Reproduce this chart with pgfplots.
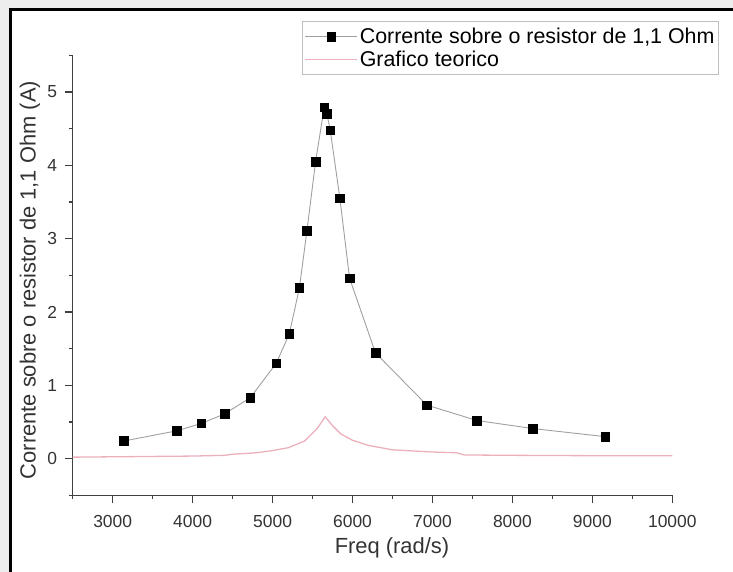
\documentclass[border=0pt]{standalone}
\usepackage{fontspec}
\setmainfont{Liberation Sans}
\usepackage{pgfplots}
\pgfplotsset{compat=1.18}
\definecolor{teorico}{RGB}{236,176,188}
\definecolor{ligacao}{RGB}{160,160,160}

% measured current through the 1.1 Ohm resistor
\pgfplotstableread{
w      I
3138   0.24
3805   0.38
4109   0.48
4400   0.61
4721   0.83
5046   1.30
5209   1.70
5336   2.33
5430   3.11
5538   4.05
5646   4.79
5680   4.70
5721   4.48
5842   3.55
5963   2.46
6288   1.44
6930   0.73
7555   0.52
8255   0.41
9159   0.30
}\medido

% theoretical curve
\pgfplotstableread{
w      I
2500   0.02
3000   0.025
3500   0.03
4000   0.035
4400   0.045
4500   0.06
4800   0.08
5000   0.11
5200   0.15
5400   0.24
5550   0.40
5659   0.57
5750   0.45
5850   0.34
6000   0.25
6200   0.18
6500   0.12
7000   0.09
7300   0.08
7400   0.05
8000   0.045
9000   0.04
10000  0.04
}\teorico

\begin{document}
\begin{tikzpicture}[x=1bp,y=1bp]
\path[use as bounding box] (0,0) rectangle (733,572);
\fill[black!7] (0,0) rectangle (8.5,572);
\fill[black!7] (0,563.5) rectangle (733,572);
\draw[line width=3bp] (10,0) -- (10,562.5) -- (733,562.5);
\begin{axis}[
  at={(72.7bp,76.7bp)}, anchor=south west,
  scale only axis, width=599.6bp, height=440bp,
  xmin=2500, xmax=10000, ymin=-0.5, ymax=5.5,
  axis lines*=left,
  axis line style={black!75, line width=1.4bp},
  xtick={3000,4000,...,10000},
  ytick={0,1,2,3,4,5},
  minor xtick={2500,3500,...,9500},
  minor ytick={-0.5,0.5,1.5,2.5,3.5,4.5,5.5},
  tick align=outside,
  major tick length=8bp, minor tick length=4bp,
  every tick/.style={black!75, line width=1.2bp},
  scaled x ticks=false,
  /pgf/number format/assume math mode=true,
  /pgf/number format/1000 sep={},
  ticklabel style={font=\fontsize{17.5}{20}\selectfont, text=black!80},
  xticklabel style={yshift=-9bp},
  yticklabel style={xshift=-4bp},
  xlabel={Freq (rad/s)},
  ylabel={Corrente sobre o resistor de 1,1 Ohm (A)},
  label style={font=\fontsize{22}{25}\selectfont, text=black!80},
  xlabel style={at={(axis description cs:0.5325,-0.1198)}, anchor=center},
  ylabel style={at={(axis description cs:-0.0712,0.489)}, anchor=center},
  legend cell align=left,
  legend style={at={(axis description cs:0.3824,1.0786)}, anchor=north west,
    draw=black!25, line width=1bp, font=\fontsize{21.5}{23}\selectfont,
    inner xsep=2bp, inner ysep=5bp, row sep=1.5bp},
  legend image code/.code={\draw[mark repeat=2,mark phase=2,#1]
    plot coordinates {(0bp,0bp) (26bp,0bp) (52bp,0bp)};},
]
\addplot[ligacao, line width=0.9bp, mark=square*,
  mark options={black, fill=black, line width=0.5bp}, mark size=4.3bp]
  table[x=w, y=I] {\medido};
\addlegendentry{Corrente sobre o resistor de 1,1 Ohm}
\addplot[teorico, line width=1.3bp] table[x=w, y=I] {\teorico};
\addlegendentry{Grafico teorico}
\end{axis}
\end{tikzpicture}
\end{document}
